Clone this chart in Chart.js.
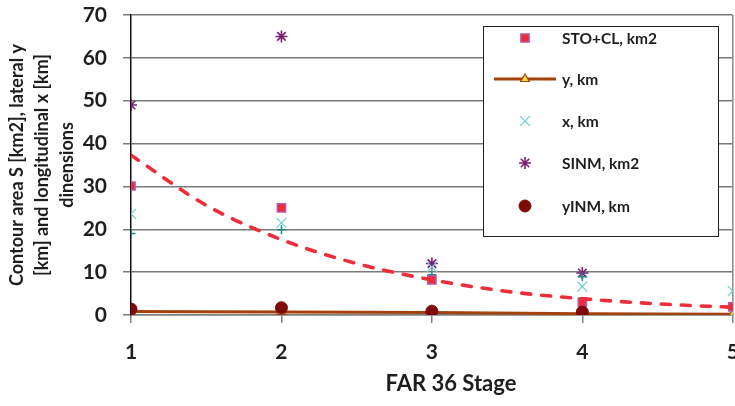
<!DOCTYPE html>
<html><head><meta charset="utf-8">
<script src="https://cdn.jsdelivr.net/npm/chart.js@4/dist/chart.umd.min.js"></script>
<style>html,body{margin:0;padding:0;background:#fff;overflow:hidden;width:735px;height:406px}#wrap{width:741px;height:406px;position:relative}canvas{display:block}</style>
</head><body><div id="wrap"><canvas id="c" width="741" height="406" style="width:741px;height:406px"></canvas></div>
<script>
// ---- data ----
const stages = [1, 2, 3, 4, 5];
const stoCl = [30.1, 25.0, 8.2, 3.0, 1.9];          // STO+CL, km2
const yKm   = [0.8, 0.7, 0.6, 0.3, 0.2];            // y, km
const xKm   = [23.6, 21.5, 11.2, 6.6, 5.6];         // x, km
const sinm  = [49.0, 65.0, 12.0, 9.8, null];        // SINM, km2
const yInm  = [1.4, 1.7, 0.9, 0.7, null];           // yINM, km
const xInm  = [19.0, 19.9, 9.4, 8.9, null];         // (unlabelled "+" series)
const trendStages = [1, 1.5, 2, 2.5, 3, 3.5, 4, 4.5, 5];
const trendVals   = [37.3, 25.6, 17.6, 12.0, 8.2, 5.5, 3.8, 2.6, 1.8];
const yTicks = [0, 10, 20, 30, 40, 50, 60, 70];
const xTickLabels = ['1', '2', '3', '4', '5'];
const legendLabels = ['STO+CL, km2', 'y, km', 'x, km', 'SINM, km2', 'yINM, km'];
const yTitle = ['Contour area S [km2], lateral y', '[km] and longitudinal x [km]', 'dinensions'];
const xTitle = 'FAR 36 Stage';

const FONT = "Lato, 'Open Sans', 'Liberation Sans', sans-serif";
const pts = (xs, ys) => xs.map((x, i) => ({x: x, y: ys[i]})).filter(p => p.y !== null);

const styles = {
  sto:  {pointStyle: 'rect', radius: 5.8, backgroundColor: '#ee2a3c', borderColor: '#b45aa8', borderWidth: 1.5},
  y:    {pointStyle: 'triangle', radius: 5, backgroundColor: '#f2e23a', borderColor: '#a4420c', borderWidth: 1.2},
  x:    {pointStyle: 'crossRot', radius: 7, backgroundColor: '#6fcfcf', borderColor: '#6fcfcf', borderWidth: 1.2},
  sinm: {pointStyle: 'star', radius: 6, backgroundColor: '#7a1f72', borderColor: '#7a1f72', borderWidth: 1.6},
  yinm: {pointStyle: 'circle', radius: 6, backgroundColor: '#7f0a0a', borderColor: '#7f0a0a', borderWidth: 1},
  xinm: {pointStyle: 'cross', radius: 4.5, backgroundColor: '#1f8585', borderColor: '#1f8585', borderWidth: 1.5}
};
function ds(label, data, st, extra) {
  return Object.assign({
    label: label, data: data, showLine: false,
    pointStyle: st.pointStyle, pointRadius: st.radius, pointHoverRadius: st.radius,
    pointBackgroundColor: st.backgroundColor, pointBorderColor: st.borderColor,
    pointBorderWidth: st.borderWidth, backgroundColor: st.backgroundColor, borderColor: st.borderColor
  }, extra || {});
}

const datasets = [
  {label: 'trend', data: pts(trendStages, trendVals), showLine: true, pointRadius: 0,
   borderColor: '#ee2d3a', borderWidth: 3.6, borderDash: [9, 11], borderCapStyle: 'round',
   cubicInterpolationMode: 'monotone', fill: false},
  ds(legendLabels[4], pts(stages, yInm), styles.yinm),
  ds(legendLabels[0], pts(stages, stoCl), styles.sto),
  ds('xINM', pts(stages, xInm), styles.xinm),
  ds(legendLabels[2], pts(stages, xKm), styles.x),
  ds(legendLabels[3], pts(stages, sinm), styles.sinm),
  ds(legendLabels[1], pts(stages, yKm), styles.y, {showLine: true, borderColor: '#a4420c', borderWidth: 3, fill: false})
];

function drawMarker(ctx, st, x, y) {
  ctx.save();
  ctx.fillStyle = st.backgroundColor;
  ctx.strokeStyle = st.borderColor;
  ctx.lineWidth = st.borderWidth;
  Chart.helpers.drawPoint(ctx, {pointStyle: st.pointStyle, radius: st.radius, borderWidth: st.borderWidth, rotation: 0}, x, y);
  ctx.restore();
}

const legendPlugin = {
  id: 'boxLegend',
  afterDraw(chart) {
    const ctx = chart.ctx;
    const xs = chart.scales.x;
    ctx.save();
    ctx.fillStyle = '#1e1e1e';
    ctx.textAlign = 'center';
    ctx.textBaseline = 'middle';
    // x tick labels, positioned by the x scale
    ctx.font = 'bold 21px ' + FONT;
    stages.forEach((v, i) => ctx.fillText(xTickLabels[i], xs.getPixelForValue(v), 352));
    // x axis title
    ctx.font = 'bold 22px ' + FONT;
    ctx.fillText(xTitle, 451, 384);
    // legend box
    const bx = 483.5, by = 26.5, bw = 235, bh = 210;
    ctx.fillStyle = '#fff';
    ctx.fillRect(bx, by, bw, bh);
    ctx.strokeStyle = '#222';
    ctx.lineWidth = 1;
    ctx.strokeRect(bx, by, bw, bh);
    const rows = [38, 79, 121, 163, 206];
    const order = [styles.sto, styles.y, styles.x, styles.sinm, styles.yinm];
    const mx = 525, tx = 562;
    rows.forEach((ry, i) => {
      if (i === 1) {
        ctx.save();
        ctx.strokeStyle = '#a4420c';
        ctx.lineWidth = 3;
        ctx.beginPath(); ctx.moveTo(494, ry); ctx.lineTo(556, ry); ctx.stroke();
        ctx.restore();
      }
      drawMarker(ctx, order[i], mx, ry);
      ctx.fillStyle = '#1e1e1e';
      ctx.font = 'bold 15.5px ' + FONT;
      ctx.textBaseline = 'middle';
      ctx.textAlign = 'left';
      ctx.fillText(legendLabels[i], tx, ry + 1);
    });
    ctx.restore();
  },
  beforeDatasetsDraw(chart) {
    const ctx = chart.ctx, a = chart.chartArea;
    ctx.save();
    ctx.strokeStyle = '#8a8a8a';
    ctx.lineWidth = 1.5;
    ctx.beginPath(); ctx.moveTo(a.right, a.top); ctx.lineTo(a.right, a.bottom); ctx.stroke();
    ctx.restore();
  }
};

new Chart(document.getElementById('c'), {
  type: 'scatter',
  data: {datasets: datasets},
  options: {
    responsive: false, animation: false,
    layout: {padding: {top: 15, right: 3, bottom: 0, left: 0}},
    plugins: {legend: {display: false}, tooltip: {enabled: false}},
    scales: {
      x: {
        type: 'linear', min: 1, max: 5,
        afterBuildTicks: s => { s.ticks = stages.map(v => ({value: v})); },
        ticks: {display: false},
        grid: {drawOnChartArea: false, drawTicks: true, tickLength: 8, color: '#808080', lineWidth: 1.5},
        border: {color: '#808080', width: 1.5},
        title: {display: false},
        afterFit(s) { s.height = 91; s.paddingLeft = 0; s.paddingRight = 0; }
      },
      y: {
        min: 0, max: 70,
        afterBuildTicks: s => { s.ticks = yTicks.map(v => ({value: v})); },
        ticks: {font: {family: FONT, size: 21, weight: 'bold'}, color: '#1e1e1e', padding: 16},
        grid: {color: '#7a7a7a', lineWidth: 1.5, tickLength: 8},
        border: {color: '#111', width: 1.5},
        title: {display: true, text: yTitle, color: '#1e1e1e', font: {family: FONT, size: 18, weight: 'bold', lineHeight: 25 / 18}, padding: {top: 5, bottom: 0}},
        afterFit(s) { s.width = 131; s.paddingTop = 0; s.paddingBottom = 0; }
      }
    }
  },
  plugins: [legendPlugin]
});
</script>
</body></html>
